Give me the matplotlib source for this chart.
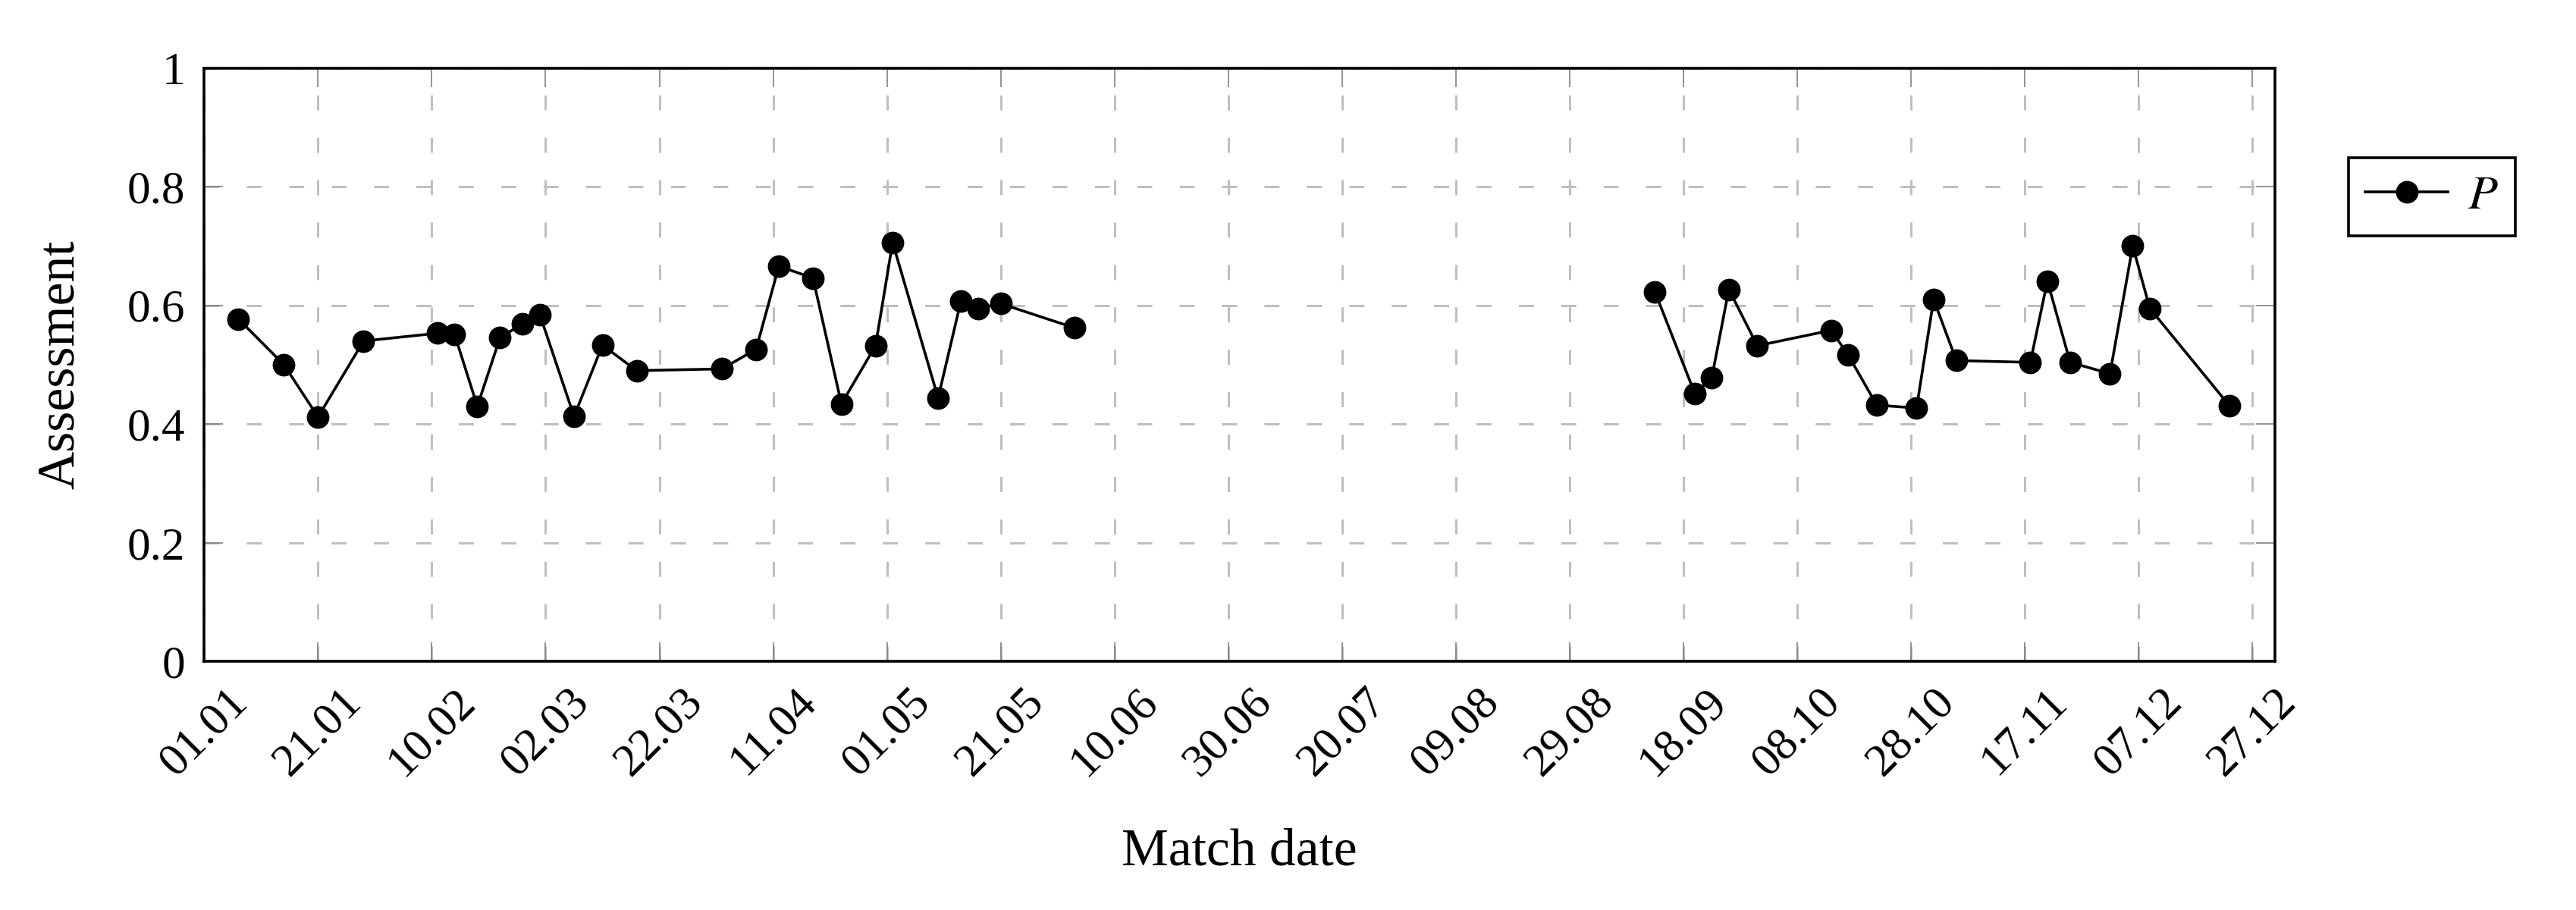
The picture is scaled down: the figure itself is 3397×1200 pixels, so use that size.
import matplotlib
matplotlib.use('Agg')
import matplotlib.pyplot as plt
import matplotlib.dates as mdates
from datetime import datetime, timedelta

plt.rcParams['font.family'] = ['Liberation Serif', 'DejaVu Serif']
plt.rcParams['mathtext.fontset'] = 'stix'

year = 2019
# first half of the season (dd.mm) and assessment values P
dates_spring = ['07.01', '15.01', '21.01', '29.01', '11.02', '14.02', '18.02', '22.02',
                '26.02', '01.03', '07.03', '12.03', '18.03', '02.04', '08.04', '12.04',
                '18.04', '23.04', '29.04', '02.05', '10.05', '14.05', '17.05', '21.05',
                '03.06']
p_spring = [0.577, 0.500, 0.412, 0.540, 0.553, 0.551, 0.430, 0.546,
            0.569, 0.584, 0.413, 0.533, 0.490, 0.493, 0.526, 0.666,
            0.646, 0.434, 0.532, 0.706, 0.444, 0.607, 0.595, 0.603,
            0.562]
# second half of the season
dates_autumn = ['13.09', '20.09', '23.09', '26.09', '01.10', '14.10', '17.10', '22.10',
                '29.10', '01.11', '05.11', '18.11', '21.11', '25.11', '02.12', '06.12',
                '09.12', '23.12']
p_autumn = [0.623, 0.452, 0.478, 0.627, 0.532, 0.558, 0.516, 0.432,
            0.427, 0.610, 0.507, 0.504, 0.641, 0.504, 0.485, 0.700,
            0.595, 0.431]


def to_date(s):
    return datetime.strptime(s + '.%d' % year, '%d.%m.%Y')


start = datetime(year, 1, 1)
end = datetime(year, 12, 31)
tick_dates = [start + timedelta(days=20 * i) for i in range(19)]

fig = plt.figure(figsize=(33.97, 12), dpi=100)
ax = fig.add_axes([269.4 / 3397, 1 - 872.3 / 1200, (3000 - 269.4) / 3397, (872.3 - 89.6) / 1200])

style = dict(color='black', linewidth=2.6, marker='o', markersize=20.5, zorder=3)
ax.plot([to_date(d) for d in dates_spring], p_spring, label='$P$', **style)
ax.plot([to_date(d) for d in dates_autumn], p_autumn, **style)

ax.set_xlim(start, end)
ax.set_ylim(0, 1)
ax.set_yticks([0, 0.2, 0.4, 0.6, 0.8, 1])
ax.set_yticklabels(['0', '0.2', '0.4', '0.6', '0.8', '1'])
ax.set_xticks(tick_dates)
ax.xaxis.set_major_formatter(mdates.DateFormatter('%d.%m'))
for lab in ax.get_xticklabels():
    lab.set_rotation(45)
    lab.set_ha('center')
    lab.set_va('top')

ax.grid(True, color='#bfbfbf', linewidth=2.2, linestyle=(0, (6.5, 11.8)))
ax.tick_params(direction='in', length=18, width=1.2, color='#808080',
               top=True, right=True, labelsize=44, pad=18)
for s in ax.spines.values():
    s.set_linewidth(2.6)

ax.set_xlabel('Match date', fontsize=50, labelpad=42)
ax.set_ylabel('Assessment', fontsize=50, labelpad=40)

leg = ax.legend(loc='center', bbox_to_anchor=(3206.9 / 3397, 1 - 259.5 / 1200),
                bbox_transform=fig.transFigure, fontsize=46, frameon=True,
                fancybox=False, edgecolor='black', framealpha=1,
                handlelength=1.7, borderpad=0.35, handletextpad=0.4)
leg.get_frame().set_linewidth(2.6)

fig.savefig('out.png', dpi=100)
